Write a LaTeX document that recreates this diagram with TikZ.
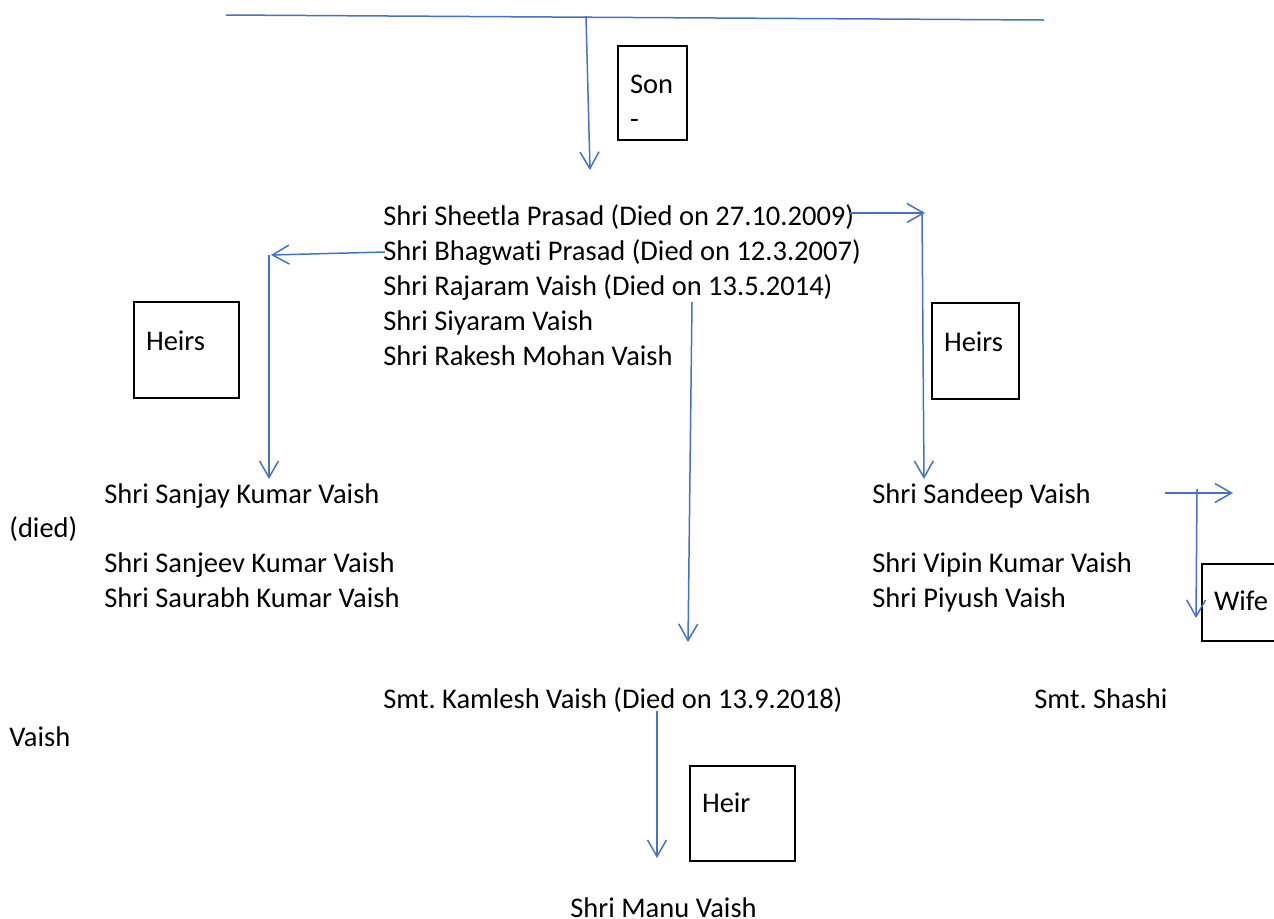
\documentclass[tikz,border=0pt]{standalone}
\usepackage{fontspec}
\setmainfont{Carlito}[Ligatures=NoCommon]
\usepackage{tikz}
\usetikzlibrary{arrows.meta}
\frenchspacing

\definecolor{wordblue}{RGB}{68,114,196}

\begin{document}
\begin{tikzpicture}[x=0.5pt, y=-0.5pt, font=\fontsize{14.25}{17.5}\selectfont,
    txt/.style={anchor=base west, inner sep=0pt},
    tag/.style={draw, line width=1pt, anchor=base west, align=left, inner xsep=6pt, inner ysep=0pt},
    link/.style={draw=wordblue, line width=0.75pt},
    arr/.style={link, -{Straight Barb[length=8.3pt, width=9.5pt]}}]
      \useasboundingbox (0,0) rectangle (1274,918);

      \node[txt]  (S1)  at ( 383, 225)  {Shri Sheetla Prasad (Died on 27.10.2009)};
      \node[txt]  (S2)  at ( 383, 260)  {Shri Bhagwati Prasad (Died on 12.3.2007)};
      \node[txt]  (S3)  at ( 383, 295)  {Shri Rajaram Vaish (Died on 13.5.2014)};
      \node[txt]  (S4)  at ( 383, 330)  {Shri Siyaram Vaish};
      \node[txt]  (S5)  at ( 383, 365)  {Shri Rakesh Mohan Vaish};

      \node[txt]  (L1)  at ( 104, 503)  {Shri Sanjay Kumar Vaish};
      \node[txt]  (LD)  at (   9, 537)  {(died)};
      \node[txt]  (L2)  at ( 104, 572)  {Shri Sanjeev Kumar Vaish};
      \node[txt]  (L3)  at ( 104, 607)  {Shri Saurabh Kumar Vaish};

      \node[txt]  (R1)  at ( 872, 503)  {Shri Sandeep Vaish};
      \node[txt]  (R2)  at ( 872, 572)  {Shri Vipin Kumar Vaish};
      \node[txt]  (R3)  at ( 872, 607)  {Shri Piyush Vaish};

      \node[txt]  (K)   at ( 383, 708)  {Smt. Kamlesh Vaish (Died on 13.9.2018)};
      \node[txt]  (SH)  at (1034, 708)  {Smt. Shashi};
      \node[txt]  (SV)  at (   9, 746)  {Vaish};
      \node[txt]  (MV)  at ( 570, 917)  {Shri Manu Vaish};

      \node[tag, text width=22.5pt, text height=23.5pt, text depth=23.5pt]  (Son)    at ( 617,  93)  {Son\\-};
      \node[tag, text width=40.5pt, text height=24pt,   text depth=24pt]    (HeirsL) at ( 133, 350)  {Heirs};
      \node[tag, text width=31.5pt, text height=24pt,   text depth=24pt]    (HeirsR) at ( 931, 351)  {Heirs};
      \node[tag, text width=40.5pt, text height=23pt,   text depth=24.5pt]  (Heir)   at ( 689, 812)  {Heir};
      \node[tag, text width=40pt,   text height=23pt,   text depth=15.5pt]  (Wife)   at (1201, 610)  {Wife};

      \coordinate (TL) at ( 226,  15);
      \coordinate (TR) at (1044,  20);
      \coordinate (TM) at ( 586,  16);
      \coordinate (TD) at ( 590, 170);
      \coordinate (RA) at ( 850, 213);
      \coordinate (RB) at ( 925, 213);
      \coordinate (RC) at ( 922, 211);
      \coordinate (RD) at ( 924, 479);
      \coordinate (LA) at ( 385, 252);
      \coordinate (LB) at ( 271, 255);
      \coordinate (LC) at ( 269, 255);
      \coordinate (LE) at ( 269, 479);
      \coordinate (MA) at ( 692, 302);
      \coordinate (MB) at ( 688, 642);
      \coordinate (WA) at (1165, 493);
      \coordinate (WB) at (1233, 493);
      \coordinate (WC) at (1197, 489);
      \coordinate (WD) at (1196, 618);
      \coordinate (KA) at ( 657, 711);
      \coordinate (KB) at ( 657, 858);

      \draw[link] (TL) -- (TR);
      \draw[arr]  (TM) -- (TD);

      \draw[arr]  (RA) -- (RB);
      \draw[arr]  (RC) -- (RD);
      \draw[arr]  (LA) -- (LB);
      \draw[arr]  (LC) -- (LE);
      \draw[arr]  (MA) -- (MB);

      \draw[arr]  (WA) -- (WB);
      \draw[arr]  (WC) -- (WD);

      \draw[arr]  (KA) -- (KB);
    \end{tikzpicture}
\end{document}
